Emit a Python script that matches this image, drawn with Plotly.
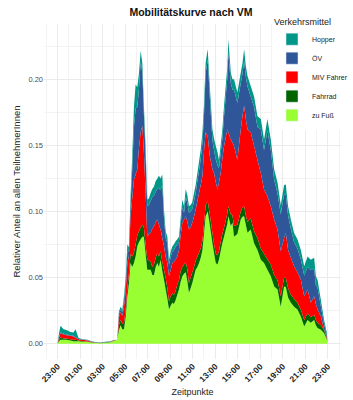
import plotly.graph_objects as go

zeit = ["23:00","23:08","23:16","23:32","23:48","00:09","00:25","00:36","00:52","01:13",
        "01:40","02:01","02:23","02:49","03:16","03:43","03:59","04:18","04:27","04:36",
        "04:45","04:54","05:03","05:12","05:20","05:29","05:38","05:47","05:56","06:05",
        "06:14","06:23","06:32","06:40","06:49","06:58","07:07","07:16","07:25","07:34",
        "07:43","07:52","08:00","08:09","08:18","08:27","08:36","08:45","08:54","09:03",
        "09:12","09:20","09:29","09:38","09:47","09:56","10:05","10:14","10:23","10:32",
        "10:40","10:49","10:58","11:07","11:16","11:25","11:34","11:43","11:52","12:00",
        "12:09","12:20","12:31","12:45","12:54","13:03","13:12","13:20","13:29","13:38",
        "13:47","13:56","14:05","14:10","14:23","14:32","14:40","14:58","15:16","15:25",
        "15:34","15:43","15:52","16:09","16:27","16:45","17:03","17:20","17:38","17:56",
        "18:14","18:32","18:49","19:07","19:16","19:28","19:43","20:00","20:18","20:36",
        "20:54","21:12","21:29","21:47","21:56","22:05","22:23","22:40","22:55","22:58"]

zu_fuss = [0,.002,.003,.003,.003,.0025,.002,.002,.002,.0015,
           .0015,.001,.0008,.0005,.0008,.0012,.0022,.003,.010,.014,
           .011,.011,.02,.036,.045,.061,.058,.061,.066,.0737,
           .077,.079,.081,.081,.068,.056,.056,.056,.052,.052,
           .058,.061,.058,.0636,.055,.0485,.041,.034,.026,.029,
           .031,.030,.033,.037,.041,.047,.051,.053,.054,.047,
           .0386,.042,.046,.051,.056,.058,.061,.065,.071,.083,
           .0965,.1,.09,.076,.068,.061,.06,.0636,.07,.076,
           .081,.086,.091,.0965,.089,.0916,.081,.083,.094,.096,
           .0965,.09,.084,.0864,.076,.071,.0636,.061,.056,.051,
           .0434,.041,.028,.0434,.043,.035,.031,.028,.026,.0207,
           .013,.018,.016,.018,.014,.012,.0106,.008,.003,0]

fahrrad = [0,.001,.002,.001,.001,.001,.001,.001,.0005,.0005,
           .0003,.0002,.0001,.0001,.0001,.0001,0,0,.004,.004,
           .004,.005,.005,.006,.007,.007,.008,.008,.009,.0083,
           .008,.009,.009,.007,.007,.008,.007,.006,.006,.008,
           .007,.008,.008,.0064,.007,.0075,.009,.008,.006,.007,
           .007,.007,.007,.008,.007,.008,.007,.007,.008,.009,
           .0074,.008,.008,.007,.007,.008,.008,.007,.007,.007,
           .0085,.008,.008,.008,.007,.007,.007,.0064,.007,.007,
           .007,.007,.008,.0075,.009,.0054,.008,.007,.006,.007,
           .0075,.007,.008,.0086,.009,.009,.0084,.007,.008,.009,
           .0086,.007,.008,.0066,.007,.007,.006,.006,.005,.0053,
           .005,.005,.004,.004,.004,.004,.0034,.002,.001,0]

miv_fahrer = [0,.002,.003,.003,.0025,.0025,.0025,.0015,.001,.001,
              .0007,.0003,.0001,.0001,.0001,.0002,.0002,0,.006,.006,
              .006,.012,.015,.019,.014,.0285,.044,.055,.053,.05,
              .063,.072,.0746,.057,.04,.017,.02,.022,.029,.029,
              .027,.025,.024,.0164,.018,.0177,.016,.019,.019,.02,
              .023,.025,.0236,.021,.023,.027,.0336,.034,.0345,.036,
              .0404,.038,.0376,.038,.0385,.042,.045,.048,.049,.055,
              .055,.049,.044,.048,.054,.054,.0497,.052,.052,.057,
              .0615,.063,.063,.056,.0565,.055,.0605,.049,.062,.069,
              .076,.073,.07,.065,.0645,.059,.057,.0487,.0476,.044,
              .042,.0384,.034,.03,.0338,.029,.028,.0246,.023,.0225,
              .018,.018,.011,.014,.012,.01,.0067,.0006,.001,0]

oev = [0,0,.0006,.0005,.0005,.0005,.0006,.0005,0,.0001,
       .0001,.0002,.0001,.0001,.0002,.0002,.0002,0,.0025,.002,
       .003,.005,.006,.009,.004,.0091,.022,.04,.05,.047,
       .045,.0535,.0404,.029,.029,.023,.022,.024,.024,.023,
       .023,.023,.028,.0296,.04,.0218,.014,.015,.0086,.01,
       .0087,.009,.0099,.009,.006,.008,.0114,.005,.0145,.014,
       .0126,.012,.0104,.012,.0125,.015,.017,.02,.025,.027,
       .0446,.0577,.045,.022,.017,.0175,.0183,.011,.015,.015,
       .0225,.031,.04,.0603,.0425,.04,.0425,.043,.035,.032,
       .0337,.032,.0325,.027,.0295,.025,.033,.0298,.0494,.0425,
       .03,.0273,.028,.033,.0287,.026,.022,.0182,.018,.0155,
       .0156,.017,.0246,.021,.014,.0165,.0073,.0044,.001,0]

hopper = [0,.003,.005,.0035,.0035,.0025,.0025,.006,.0008,.0004,
          .0004,.0003,.0002,.0002,.0003,.0003,.0002,0,.002,.002,
          .002,.003,.004,.005,.003,.006,.01,.015,.018,.015,
          .012,.008,.007,.006,.006,.005,.005,.006,.006,.007,
          .008,.008,.009,.009,.008,.006,.005,.005,.004,.004,
          .004,.004,.004,.004,.004,.005,.006,.005,.006,.006,
          .005,.005,.005,.006,.006,.006,.007,.007,.008,.008,
          .008,.008,.008,.008,.009,.01,.01,.006,.006,.007,
          .008,.008,.008,.01,.008,.008,.008,.008,.008,.008,
          .009,.008,.008,.008,.008,.008,.008,.008,.009,.008,
          .008,.008,.007,.007,.008,.007,.007,.007,.007,.007,
          .007,.008,.008,.008,.007,.006,.005,.003,.002,0]

serien = [("zu Fuß", zu_fuss, "#99FF33"),
          ("Fahrrad", fahrrad, "#006400"),
          ("MIV Fahrer", miv_fahrer, "#FF0000"),
          ("ÖV", oev, "#30569A"),
          ("Hopper", hopper, "#009688")]

def to_dt(s):
    h = int(s[:2])
    day = "2023-01-01" if h >= 23 else "2023-01-02"
    return f"{day} {s}:00"

xs = [to_dt(s) for s in zeit]

fig = go.Figure()
for name, vals, col in serien:
    fig.add_trace(go.Scatter(x=xs, y=vals, name=name, stackgroup="one", mode="none",
                             fillcolor=col, showlegend=False, hoverinfo="skip"))
for name, vals, col in serien:
    fig.add_trace(go.Bar(x=[None], y=[None], name=name, marker_color=col, showlegend=True))

font = "Liberation Sans, Arial, sans-serif"
fig.update_layout(
    width=353, height=400,
    margin=dict(l=44, r=12, t=24, b=41, autoexpand=False),
    paper_bgcolor="white", plot_bgcolor="white",
    font=dict(family=font, color="#222222"),
    title=dict(text="<b>Mobilitätskurve nach VM</b>", x=191/353, xanchor="center",
               y=1 - 12/400, yanchor="middle", font=dict(size=10.5, color="#111111")),
    legend=dict(title=dict(text="Verkehrsmittel", font=dict(size=9, color="#222222")),
                traceorder="reversed", xref="container", yref="container",
                x=272/353, xanchor="left", y=1 - 13/400, yanchor="top",
                bgcolor="white", font=dict(size=7, color="#222222"), itemwidth=30,
                borderwidth=0),
    showlegend=True,
)
fig.update_xaxes(
    type="date", range=["2023-01-01 21:48", "2023-01-03 00:10"],
    tick0="2023-01-01 23:00", dtick=7200000, tickformat="%H:%M", tickangle=-45,
    tickfont=dict(size=8.5, color="#222222", family=font, weight="bold"),
    showgrid=True, gridcolor="#EBEBEB", gridwidth=0.9, zeroline=False, showline=False,
    ticks="", minor=dict(dtick=3600000, showgrid=True, gridcolor="#F3F3F3", gridwidth=0.6),
    title=dict(text="Zeitpunkte", font=dict(size=9, color="#222222"), standoff=5),
    automargin=False,
)
fig.update_yaxes(
    range=[-0.0115, 0.2418], tickvals=[0, 0.05, 0.10, 0.15, 0.20], tickformat=".2f",
    tickfont=dict(size=7.5, color="#4D4D4D"),
    showgrid=True, gridcolor="#EBEBEB", gridwidth=0.9, zeroline=False, showline=False,
    ticks="", minor=dict(tickvals=[0.025, 0.075, 0.125, 0.175, 0.225], showgrid=True,
                         gridcolor="#F3F3F3", gridwidth=0.6),
    title=dict(text="Relativer Anteil an allen TeilnehmerInnen", font=dict(size=9.5, color="#222222"),
               standoff=6),
    automargin=False,
)
fig.write_html("out.html")
